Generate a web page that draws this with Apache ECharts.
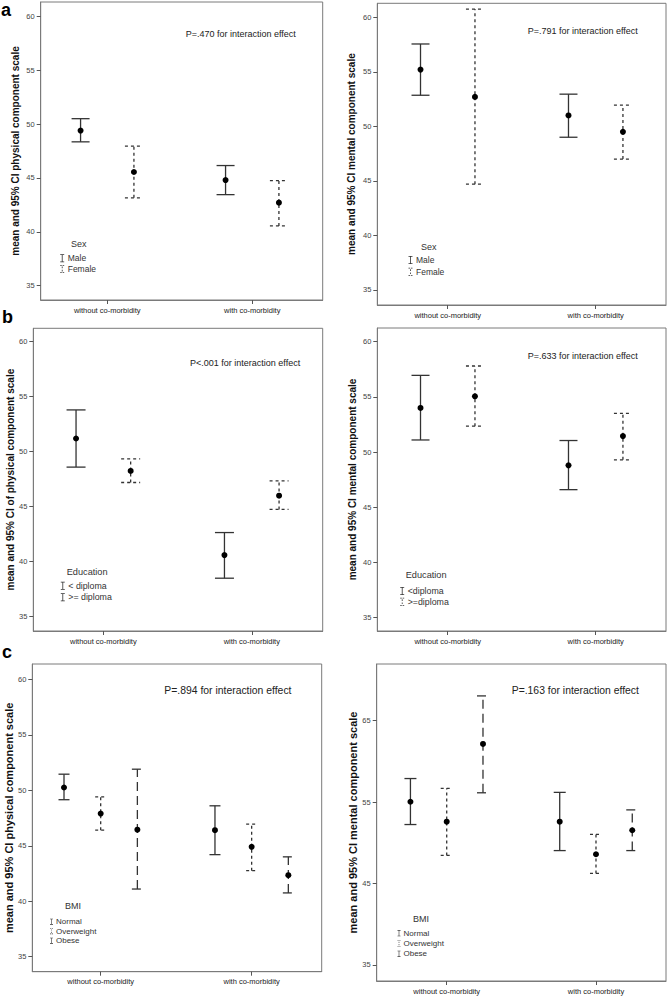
<!DOCTYPE html>
<html><head><meta charset="utf-8">
<script src="https://cdn.jsdelivr.net/npm/echarts@6/dist/echarts.min.js"></script>
<style>html,body{margin:0;padding:0;background:#fff}#c{width:669px;height:998px}</style>
</head><body><div id="c"></div>
<script>
// ---------- data ----------
const groups = ['without co-morbidity', 'with co-morbidity'];
const yTicksA = [35, 40, 45, 50, 55, 60];
const yTicksC = [35, 45, 55, 65];

// each row: [mean, lower 95% CI, upper 95% CI] for [without, with]
// (a) Sex
const sexNames = ['Male', 'Female'];
const aPhysMale   = [[49.4, 48.35, 50.5], [44.8, 43.45, 46.15]];
const aPhysFemale = [[45.55, 43.15, 47.95], [42.7, 40.55, 44.75]];
const aMentMale   = [[55.2, 52.85, 57.55], [51.0, 49.0, 52.95]];
const aMentFemale = [[52.7, 44.7, 60.75], [49.5, 47.0, 51.95]];
// (b) Education
const eduNamesL = ['< diploma', '>= diploma'];
const eduNamesR = ['<diploma', '>=diploma'];
const bPhysLow  = [[51.2, 48.6, 53.8], [40.6, 38.5, 42.65]];
const bPhysHigh = [[48.25, 47.2, 49.35], [46.0, 44.75, 47.35]];
const bMentLow  = [[54.0, 51.1, 56.95], [48.8, 46.6, 51.05]];
const bMentHigh = [[55.05, 52.35, 57.8], [51.45, 49.3, 53.5]];
// (c) BMI
const bmiNames = ['Normal', 'Overweight', 'Obese'];
const cPhysNormal = [[50.25, 49.15, 51.45], [46.4, 44.2, 48.6]];
const cPhysOver   = [[47.9, 46.4, 49.4], [44.9, 42.75, 46.95]];
const cPhysObese  = [[46.45, 41.1, 51.9], [42.35, 40.75, 44.0]];
const cMentNormal = [[55.05, 52.25, 57.9], [52.6, 49.05, 56.2]];
const cMentOver   = [[52.6, 48.45, 56.7], [48.6, 46.25, 51.05]];
const cMentObese  = [[62.15, 56.15, 68.05], [51.55, 49.05, 54.05]];

const pTexts = ['P=.470 for interaction effect', 'P=.791 for interaction effect',
  'P<.001 for interaction effect', 'P=.633 for interaction effect',
  'P=.894 for interaction effect', 'P=.163 for interaction effect'];
const yTitles = ['mean and 95% CI physical component scale', 'mean and 95% CI mental component scale',
  'mean and 95% CI of physical component scale', 'mean and 95% CI mental component scale',
  'mean and 95% CI physical component scale', 'mean and 95% CI mental component scale'];
const legendTitles = ['Sex', 'Sex', 'Education', 'Education', 'BMI', 'BMI'];

// ---------- styling / layout ----------
const FONT = '"Liberation Sans", Arial, sans-serif';
const DASH = { solid: null, dotted: [3, 3], dashed: [9, 5] };
const ICON = {
  solid: 'path://M0,0h5v1H0z M2,0h1v10H2z M0,9h5v1H0z',
  dotted: 'path://M0,0h2v1H0z M3,0h2v1H3z M2,2h1v2H2z M2,6h1v2H2z M0,9h2v1H0z M3,9h2v1H3z'
};
const off2 = [-0.184, 0.184];
const off3 = [-0.243, 0, 0.243];

const panels = [
  { grid: {left: 40.7, top: 2, width: 282, height: 298}, x: [0.541, 2.486], y: [33.67, 61.33], ticks: yTicksA,
    nameGap: 20.5, nameSize: 10, p: [185.7, 33.7, 9], lt: [71, 244, 9], lg: {left: 60.2, top: 253.3, lh: 10, gap: 0.7, fs: 8.5, iw: 5, ih: 8},
    cap: 18, offs: off2,
    series: [{name: sexNames[0], v: aPhysMale, d: 'solid', i: 'solid'}, {name: sexNames[1], v: aPhysFemale, d: 'dotted', i: 'dotted'}] },
  { grid: {left: 377.3, top: 3.3, width: 288.7, height: 301.7}, x: [0.524, 2.475], y: [33.62, 61.28], ticks: yTicksA,
    nameGap: 20.5, nameSize: 10, p: [527.7, 31, 9], lt: [421, 246.7, 9], lg: {left: 408.5, top: 255, lh: 10, gap: 1.7, fs: 8.5, iw: 5, ih: 8},
    cap: 18, offs: off2,
    series: [{name: sexNames[0], v: aMentMale, d: 'solid', i: 'solid'}, {name: sexNames[1], v: aMentFemale, d: 'dotted', i: 'dotted'}] },
  { grid: {left: 33.3, top: 328.3, width: 289.4, height: 302.7}, x: [0.528, 2.478], y: [33.7, 61.22], ticks: yTicksA,
    nameGap: 15, nameSize: 10, p: [190, 362.7, 9], lt: [66.7, 571.7, 9.2], lg: {left: 60.8, top: 580.7, lh: 10, gap: 1.6, fs: 8.8, iw: 5, ih: 8},
    cap: 19, offs: off2,
    series: [{name: eduNamesL[0], v: bPhysLow, d: 'solid', i: 'solid'}, {name: eduNamesL[1], v: bPhysHigh, d: 'dotted', i: 'solid'}] },
  { grid: {left: 377.3, top: 328, width: 288.7, height: 303}, x: [0.524, 2.475], y: [33.8, 61.24], ticks: yTicksA,
    nameGap: 19.8, nameSize: 10, p: [527.7, 356, 9], lt: [405.7, 575, 9.2], lg: {left: 400.2, top: 586, lh: 10, gap: 0.7, fs: 8.8, iw: 5, ih: 8},
    cap: 18, offs: off2,
    series: [{name: eduNamesR[0], v: bMentLow, d: 'solid', i: 'solid'}, {name: eduNamesR[1], v: bMentHigh, d: 'dotted', i: 'dotted'}] },
  { grid: {left: 32.3, top: 664, width: 289.4, height: 307.7}, x: [0.547, 2.464], y: [33.65, 61.38], ticks: yTicksA,
    nameGap: 12.3, nameSize: 11, p: [164.3, 690.7, 10.4], lt: [65, 906, 9], lg: {left: 50, top: 917.2, lh: 9, gap: 0.5, fs: 8, iw: 3, ih: 7},
    cap: 11, offs: off3,
    series: [{name: bmiNames[0], v: cPhysNormal, d: 'solid', i: 'solid'}, {name: bmiNames[1], v: cPhysOver, d: 'dotted', i: 'dotted'},
             {name: bmiNames[2], v: cPhysObese, d: 'dashed', i: 'solid'}] },
  { grid: {left: 376.7, top: 664, width: 289.3, height: 317}, x: [0.531, 2.469], y: [33.03, 71.97], ticks: yTicksC,
    nameGap: 18.7, nameSize: 11, p: [511.7, 690, 10.4], lt: [413, 919, 9], lg: {left: 397.5, top: 928.8, lh: 9, gap: 1.2, fs: 8, iw: 3, ih: 7},
    cap: 12, offs: off3,
    series: [{name: bmiNames[0], v: cMentNormal, d: 'solid', i: 'solid'}, {name: bmiNames[1], v: cMentOver, d: 'dotted', i: 'dotted'},
             {name: bmiNames[2], v: cMentObese, d: 'dashed', i: 'solid'}] }
];

function makeRender(dash, capW) {
  return function (params, api) {
    const x = api.value(0);
    const pm = api.coord([x, api.value(1)]);
    const pl = api.coord([x, api.value(2)]);
    const ph = api.coord([x, api.value(3)]);
    const h = capW / 2;
    const st = { stroke: '#333', lineWidth: 1.3, lineDash: dash, fill: null };
    return { type: 'group', children: [
      { type: 'line', shape: { x1: pl[0], y1: pl[1], x2: ph[0], y2: ph[1] }, style: st },
      { type: 'line', shape: { x1: ph[0] - h, y1: ph[1], x2: ph[0] + h, y2: ph[1] }, style: st },
      { type: 'line', shape: { x1: pl[0] - h, y1: pl[1], x2: pl[0] + h, y2: pl[1] }, style: st },
      { type: 'circle', shape: { cx: pm[0], cy: pm[1], r: 3 }, style: { fill: '#000', stroke: null } }
    ]};
  };
}

const option = { animation: false, backgroundColor: '#fff', grid: [], xAxis: [], yAxis: [], series: [], legend: [], graphic: [] };

panels.forEach((p, i) => {
  option.grid.push(Object.assign({ show: true, borderColor: '#7a7a7a', borderWidth: 1, backgroundColor: 'transparent' }, p.grid));
  option.xAxis.push({
    type: 'value', gridIndex: i, min: p.x[0], max: p.x[1], splitLine: { show: false },
    axisLine: { show: true, onZero: false, lineStyle: { color: '#7a7a7a', width: 1 } },
    axisTick: { show: true, customValues: [1, 2], length: 4, lineStyle: { color: '#555' } },
    axisLabel: { customValues: [1, 2], formatter: v => groups[Math.round(v) - 1] || '', margin: 6,
      fontSize: 7.5, fontFamily: FONT, color: '#222' }
  });
  option.yAxis.push({
    type: 'value', gridIndex: i, min: p.y[0], max: p.y[1], splitLine: { show: false },
    name: yTitles[i], nameLocation: 'middle', nameGap: p.nameGap,
    nameTextStyle: { fontSize: p.nameSize, fontWeight: 'bold', fontFamily: FONT, color: '#111' },
    axisLine: { show: true, onZero: false, lineStyle: { color: '#7a7a7a', width: 1 } },
    axisTick: { show: true, customValues: p.ticks, length: 4, lineStyle: { color: '#555' } },
    axisLabel: { customValues: p.ticks, margin: 6, fontSize: 7.5, fontFamily: FONT, color: '#444' }
  });
  p.series.forEach((s, k) => {
    option.series.push({
      type: 'custom', name: s.name, xAxisIndex: i, yAxisIndex: i,
      renderItem: makeRender(DASH[s.d], p.cap),
      encode: { x: 0, y: [1, 2, 3] },
      data: s.v.map((r, g) => [g + 1 + p.offs[k], r[0], r[1], r[2]]),
      itemStyle: { color: '#333' }
    });
  });
  option.legend.push({
    orient: 'vertical', left: p.lg.left, top: p.lg.top, padding: 0,
    itemWidth: p.lg.iw, itemHeight: p.lg.ih, itemGap: p.lg.gap,
    textStyle: { fontSize: p.lg.fs, fontFamily: FONT, color: '#333', lineHeight: p.lg.lh, padding: [0, 0, 0, -2] },
    data: p.series.map(s => ({ name: s.name, icon: ICON[s.i], itemStyle: { color: '#333', borderWidth: 0 } }))
  });
  option.graphic.push({ type: 'text', x: p.p[0], y: p.p[1], silent: true,
    style: { text: pTexts[i], fontSize: p.p[2], fontFamily: FONT, fill: '#222', align: 'left', verticalAlign: 'middle' } });
  option.graphic.push({ type: 'text', x: p.lt[0], y: p.lt[1], silent: true,
    style: { text: legendTitles[i], fontSize: p.lt[2], fontFamily: FONT, fill: '#333', align: 'left', verticalAlign: 'middle' } });
});

[['a', 1, 10], ['b', 2, 317], ['c', 2, 652]].forEach(l => {
  option.graphic.push({ type: 'text', x: l[1], y: l[2], silent: true,
    style: { text: l[0], fontSize: 18, fontWeight: 'bold', fontFamily: FONT, fill: '#000', align: 'left', verticalAlign: 'middle' } });
});

const chart = echarts.init(document.getElementById('c'), null, { renderer: 'svg' });
chart.setOption(option);
</script></body></html>
